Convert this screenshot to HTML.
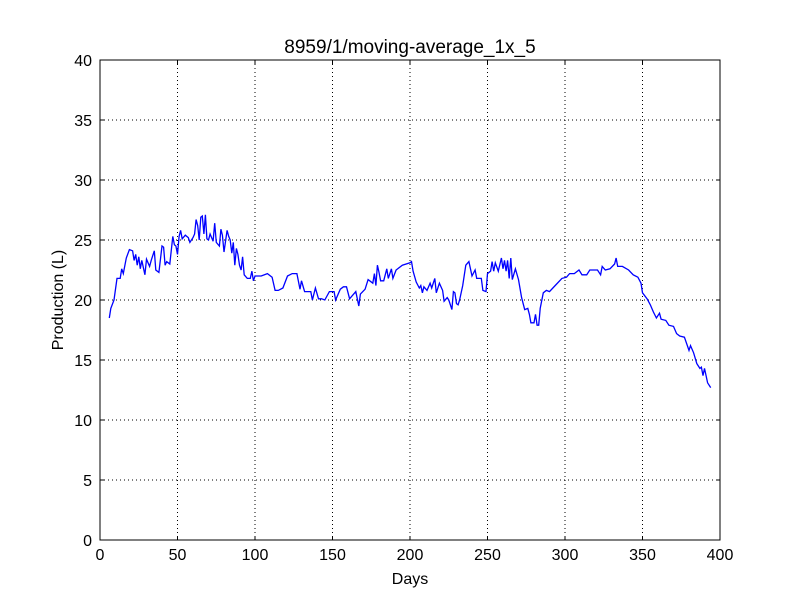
<!DOCTYPE html>
<html><head><meta charset="utf-8"><style>
body{margin:0;background:#fff;}
svg text{font-family:"Liberation Sans","DejaVu Sans",sans-serif;}
</style></head><body>
<svg id="chart" width="800" height="600" xmlns="http://www.w3.org/2000/svg">
<rect width="800" height="600" fill="#fff"/>
<text x="410" y="53" font-size="19" text-anchor="middle">8959/1/moving-average_1x_5</text>
<text x="410" y="584" font-size="16" text-anchor="middle">Days</text>
<text x="63" y="300" font-size="16" text-anchor="middle" transform="rotate(-90 63 300)">Production (L)</text>
<g id="grid"></g><g id="ticks"></g>
<path id="line" fill="none" stroke="#0000ff" stroke-width="1.3"/>
<rect x="100" y="60" width="620" height="480" fill="none" stroke="#000" stroke-width="1"/>
</svg>
<script>
const xTicks=[0,50,100,150,200,250,300,350,400];
const yTicks=[0,5,10,15,20,25,30,35,40];
const days=[6,7,9,11,13,14,15,17,19,21,22,23,24,25,26,27,29,30,32,33,35,36,38,40,41,42,43,45,47,48,49,50,51,52,53,55,57,58,60,61,62,63,64,65,66,67,68,69,70,71,73,74,75,77,78,79,80,82,83,84,85,86,87,88,89,90,91,92,93,95,97,98,99,100,104,108,111,113,115,118,121,124,127,129,130,132,134,136,137,139,141,143,145,148,151,152,155,157,159,161,165,167,168,171,173,176,177,178,179,180,181,183,185,186,188,189,191,195,200,201,202,204,206,207,208,209,211,213,214,216,217,219,221,222,224,225,227,228,229,230,231,232,234,236,238,240,242,243,246,247,249,250,252,253,254,255,257,259,260,261,262,263,264,265,266,268,270,272,274,276,277,278,280,281,282,283,284,286,288,290,294,298,301,303,306,309,311,314,316,319,321,323,324,326,329,332,333,334,337,341,344,347,349,350,353,355,357,359,361,362,365,367,370,372,374,377,380,381,383,385,387,388,389,390,392,394];
const production=[18.5,19.3,20,21.8,21.8,22.6,22.2,23.5,24.2,24.1,23.3,23.8,22.9,23.6,22.6,23.3,22.1,23.4,22.8,23.3,24.1,22.5,22.3,24.5,24.4,22.9,23.2,23.0,25.3,24.6,24.5,23.8,25.3,25.8,25.1,25.4,25.2,24.8,25.2,25.5,26.7,26.2,25.0,26.9,27.0,25.5,27.1,25.1,25.0,25.5,24.9,26.4,24.8,24.5,25.9,25.4,24.0,25.8,25.3,25.0,23.9,24.8,22.9,24.3,23.8,22.9,22.5,23.6,22.1,21.8,21.8,22.4,21.6,22.0,22.0,22.2,21.9,20.8,20.8,21.0,22.0,22.2,22.2,20.9,21.6,20.7,20.7,20.7,20.0,21.0,20.1,20.1,20.0,20.7,20.7,20.0,20.9,21.1,21.1,20.1,20.7,19.5,20.5,20.9,21.7,21.4,22.2,21.2,22.9,22.3,21.6,21.6,22.6,21.8,22.6,21.8,22.5,22.9,23.1,23.2,22.4,21.5,21.0,21.2,20.6,21.1,20.8,21.4,21.0,21.8,20.6,21.4,20.8,19.9,20.2,20.0,19.2,20.7,20.6,19.7,19.6,20.0,21.2,22.9,23.2,22.0,22.5,21.8,21.8,20.8,20.7,22.2,22.4,23.2,22.4,23.1,22.4,23.5,22.6,23.3,22.4,23.3,21.8,23.5,21.7,22.6,21.7,20.2,19.2,19.3,18.8,18.1,18.1,18.8,17.9,17.9,19.3,20.6,20.8,20.7,21.25,21.8,21.9,22.2,22.2,22.5,22.1,22.1,22.5,22.5,22.5,22.1,22.8,22.5,22.6,23.0,23.5,22.8,22.8,22.5,22.1,21.9,21.4,20.6,20.1,19.6,19.0,18.5,18.9,18.4,18.3,17.9,17.8,17.2,17.0,16.9,15.8,16.2,15.6,14.7,14.3,14.4,13.7,14.3,13.1,12.7];
const NS='http://www.w3.org/2000/svg';
const X0=100,X1=720,Y0=540,Y1=60;
function xs(v){return X0+(v-0)/(400-0)*(X1-X0);}
function ys(v){return Y0-(v-0)/(40-0)*(Y0-Y1);}
const grid=document.getElementById('grid'),ticks=document.getElementById('ticks');
function mk(tag,attrs,parent){const e=document.createElementNS(NS,tag);for(const k in attrs)e.setAttribute(k,attrs[k]);parent.appendChild(e);return e;}
xTicks.forEach(t=>{
  const x=xs(t);
  if(t>0&&t<400){const g=mk('line',{x1:x,x2:x,y1:Y1,y2:Y0,stroke:'#000','stroke-dasharray':'1,3','stroke-width':1},grid);
  
  }
  mk('line',{x1:x,x2:x,y1:Y0,y2:Y0-4,stroke:'#000'},ticks);
  mk('line',{x1:x,x2:x,y1:Y1,y2:Y1+4,stroke:'#000'},ticks);
  const tx=mk('text',{x:x,y:Y0+20,'font-size':16,'text-anchor':'middle'},ticks);
  tx.textContent=t;
  
  
});
yTicks.forEach(t=>{
  const y=ys(t);
  if(t>0&&t<40){const g=mk('line',{x1:X0,x2:X1,y1:y,y2:y,stroke:'#000','stroke-dasharray':'1,3','stroke-width':1},grid);
  
  }
  mk('line',{x1:X0,x2:X0+4,y1:y,y2:y,stroke:'#000'},ticks);
  mk('line',{x1:X1,x2:X1-4,y1:y,y2:y,stroke:'#000'},ticks);
  const tx=mk('text',{x:X0-8,y:y+6,'font-size':16,'text-anchor':'end'},ticks);
  tx.textContent=t;
  
  
});
document.getElementById('line').setAttribute('d',days.map((d,i)=>(i?'L':'M')+xs(d).toFixed(1)+','+ys(production[i]).toFixed(1)).join(''));
</script>
</body></html>
